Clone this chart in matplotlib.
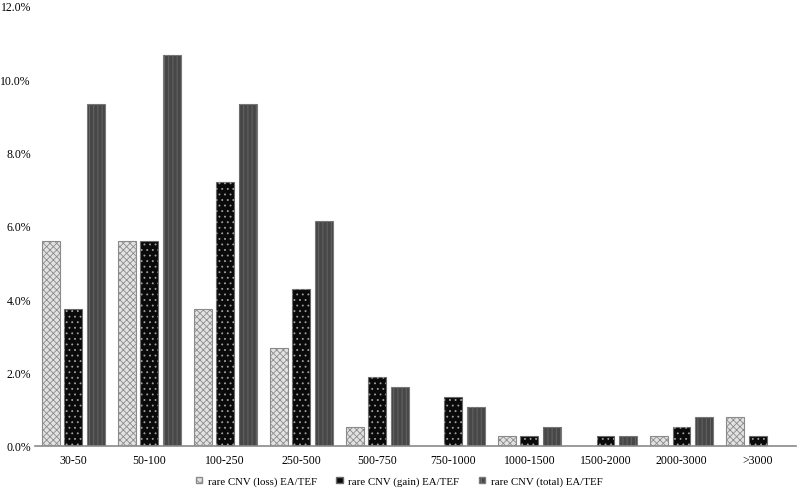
import matplotlib.pyplot as plt
import numpy as np
from matplotlib.patches import Patch
from matplotlib.ticker import PercentFormatter

plt.rcParams['font.family'] = ['Liberation Serif', 'DejaVu Serif']
plt.rcParams['hatch.linewidth'] = 0.6

# Data (percent)
categories = ['30-50', '50-100', '100-250', '250-500', '500-750', '750-1000',
              '1000-1500', '1500-2000', '2000-3000', '>3000']
loss = [5.60, 5.60, 3.73, 2.67, 0.53, 0.0, 0.27, 0.0, 0.27, 0.80]
gain = [3.73, 5.60, 7.20, 4.27, 1.87, 1.33, 0.27, 0.27, 0.53, 0.27]
total = [9.33, 10.67, 9.33, 6.13, 1.60, 1.07, 0.53, 0.27, 0.80, 0.0]
series_labels = ['rare CNV (loss) EA/TEF', 'rare CNV (gain) EA/TEF', 'rare CNV (total) EA/TEF']

fig, ax = plt.subplots(figsize=(7.98, 4.89), dpi=100)
fig.subplots_adjust(left=0.044, right=0.997, top=0.986, bottom=0.086)

x = np.arange(len(categories))
w = 0.235
step = 0.295

# loss: light wavy texture
ax.bar(x - step, loss, w, color='#e2e2e2', edgecolor='#8a8a8a', linewidth=0.8)
ax.bar(x - step, loss, w, color='none', edgecolor='#8c8c8c', hatch='xxxxx', linewidth=0)
# gain: black with white dots
ax.bar(x, gain, w, color='#0a0a0a', edgecolor='#6a6a6a', linewidth=0.8)
ax.bar(x, gain, w, color='none', edgecolor='#a0a0a0', hatch='...', linewidth=0)
# total: dark grey with vertical lines
ax.bar(x + step, total, w, color='#474747', edgecolor='#7a7a7a', linewidth=0.8)
ax.bar(x + step, total, w, color='none', edgecolor='#6a6a6a', hatch='||||', linewidth=0)

ax.set_xlim(-0.5, len(categories) - 0.5)
ax.set_ylim(0, 12)
ax.set_yticks(np.arange(0, 12.1, 2))
ax.yaxis.set_major_formatter(PercentFormatter(decimals=1))
ax.set_xticks(x)
ax.set_xticklabels(categories)
ax.tick_params(axis='both', length=0, labelsize=8.5)
ax.tick_params(axis='y', pad=3)
ax.tick_params(axis='x', pad=6)

for s in ['top', 'right', 'left']:
    ax.spines[s].set_visible(False)
ax.spines['bottom'].set_color('#8a8a8a')
ax.spines['bottom'].set_linewidth(1.2)

handles = [
    Patch(facecolor='#e2e2e2', edgecolor='#8a8a8a', hatch='xxxx', label=series_labels[0]),
    Patch(facecolor='#0a0a0a', edgecolor='#6a6a6a', label=series_labels[1]),
    Patch(facecolor='#474747', edgecolor='#7a7a7a', hatch='||||', label=series_labels[2]),
]
fig.legend(handles=handles, loc='lower center', ncol=3, frameon=False,
           fontsize=7.8, handlelength=0.6, handleheight=0.6, columnspacing=1.8,
           handletextpad=0.5, bbox_to_anchor=(0.5, -0.016))

fig.savefig('out.png', dpi=100)
